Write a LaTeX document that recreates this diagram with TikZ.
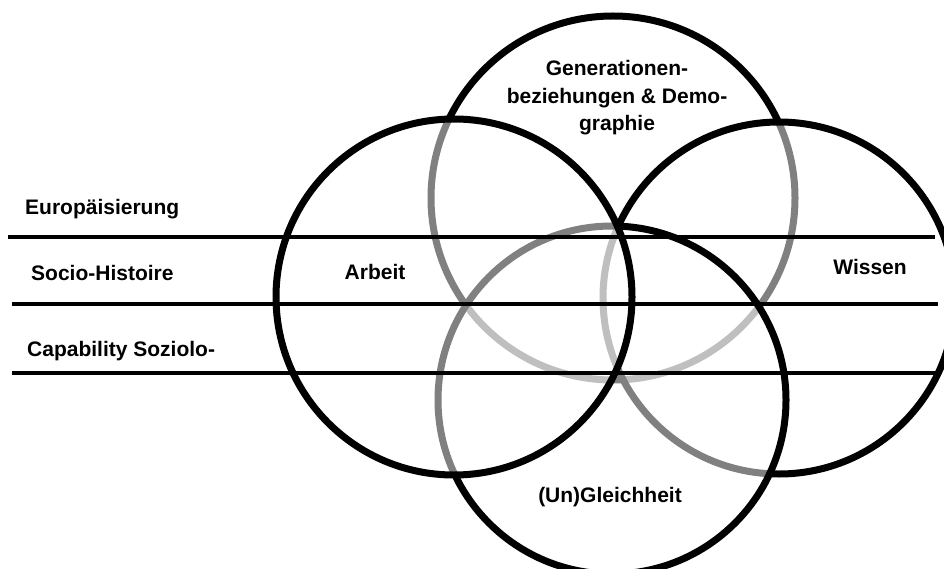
\documentclass[tikz,border=0pt]{standalone}
\usepackage{fontspec}
\setmainfont{Liberation Sans}
\usetikzlibrary{positioning}

\begin{document}
\begin{tikzpicture}[x=1pt, y=-1pt, font=\bfseries\fontsize{21}{27.5}\selectfont,
        ring/.style={draw, line width=7pt, fill=white, fill opacity=0.5},
        band/.style={line width=3.5pt},
        lbl/.style={inner sep=0pt, align=center}]
  \useasboundingbox (0,0) rectangle (944,569);
  \clip (0,0) rectangle (944,569);
  % circles: each later fill pales the arcs beneath it
  \path[ring] (613,198) circle[radius=182pt];
  \path[ring] (779,298) circle[radius=176pt];
  \path[ring] (612,400) circle[radius=174pt];
  \path[ring] (454,297) circle[radius=178pt];
  % band lines
  \coordinate (b1w) at (8,237);  \coordinate (b1e) at (935,237);
  \coordinate (b2w) at (12,304); \coordinate (b2e) at (938,304);
  \coordinate (b3w) at (12,373); \coordinate (b3e) at (938,373);
  \draw[band] (b1w) -- (b1e);
  \draw[band] (b2w) -- (b2e);
  \draw[band] (b3w) -- (b3e);
  % band labels
  \node[lbl, anchor=west] (euro) at (25,209) {Europäisierung};
  \node[lbl, anchor=west] (socio) at (31,273) {Socio-Histoire};
  \node[lbl, anchor=west] (capab) at (27,351) {Capability Soziolo-};
  % circle labels
  \node[lbl] (gen) at (617,98) {Generationen-\\beziehungen \& Demo-\\graphie};
  \node[lbl] (arbeit) at (375,272) {Arbeit};
  \node[lbl] (wissen) at (870,267) {Wissen};
  \node[lbl] (gleich) at (610,497) {(Un)Gleichheit};
\end{tikzpicture}
\end{document}
